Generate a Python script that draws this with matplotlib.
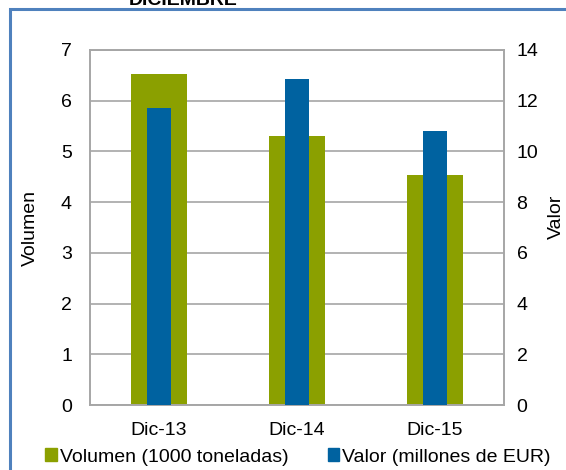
import numpy as np
import matplotlib
matplotlib.use("Agg")
import matplotlib.pyplot as plt
from matplotlib.patches import Rectangle, Patch

plt.rcParams['font.family'] = ['Liberation Sans', 'DejaVu Sans']

# data
categories = ["Dic-13", "Dic-14", "Dic-15"]
volumen = [6.53, 5.31, 4.54]     # 1000 toneladas (left axis)
valor = [11.72, 12.86, 10.80]    # millones de EUR (right axis)
left_ticks = [0, 1, 2, 3, 4, 5, 6, 7]
right_ticks = [0, 2, 4, 6, 8, 10, 12, 14]

green = "#8BA000"
blue = "#0062A0"
grid_grey = "#A6A6A6"

W, H = 566, 470
fig = plt.figure(figsize=(W / 100, H / 100), dpi=100)

ax = fig.add_axes([90 / W, 1 - 405 / H, 414 / W, 355 / H])
ax2 = ax.twinx()

x = np.arange(len(categories))
ax.bar(x, volumen, width=0.40, color=green, zorder=2)
ax2.bar(x, valor, width=0.18, color=blue, zorder=3)

ax.set_xlim(-0.5, 2.5)
ax.set_ylim(0, 7)
ax2.set_ylim(0, 14)
ax.set_yticks(left_ticks)
ax2.set_yticks(right_ticks)
ax.set_xticks(x)
ax.set_xticklabels(categories)

ax.yaxis.grid(True, color=grid_grey, linewidth=1.2, zorder=0)
ax.set_axisbelow(True)

for a in (ax, ax2):
    for s in a.spines.values():
        s.set_color(grid_grey)
        s.set_linewidth(1.2)
    a.tick_params(length=0, labelsize=14, colors="black")
ax.tick_params(axis="y", pad=13)
ax2.tick_params(axis="y", pad=9)
ax.tick_params(axis="x", pad=12)

# axis titles
fig.text(30 / W, 1 - 228 / H, "Volumen", rotation=90, ha="center", va="center", fontsize=14)
fig.text(556 / W, 1 - 217 / H, "Valor", rotation=90, ha="center", va="center", fontsize=14)

handles = [Patch(color=green, label="Volumen (1000 toneladas)"),
           Patch(color=blue, label="Valor (millones de EUR)")]
fig.legend(handles=handles, loc="center", bbox_to_anchor=(298 / W, 1 - 457 / H),
           ncol=2, frameon=False, fontsize=14, handlelength=0.6, handleheight=0.6,
           handletextpad=0.15, columnspacing=2.0, borderpad=0)

# partially visible title and outer blue frame
fig.text(183 / W, 1 - 5 / H, "DICIEMBRE", ha="center", va="baseline",
         fontsize=14, fontweight="bold")
fig.patches.append(Rectangle((10 / W, -0.2), 1.2, 1.2 - 9 / H, transform=fig.transFigure,
                             fill=False, edgecolor="#4F81BD", linewidth=2.2))

fig.savefig("out.png", dpi=100)
